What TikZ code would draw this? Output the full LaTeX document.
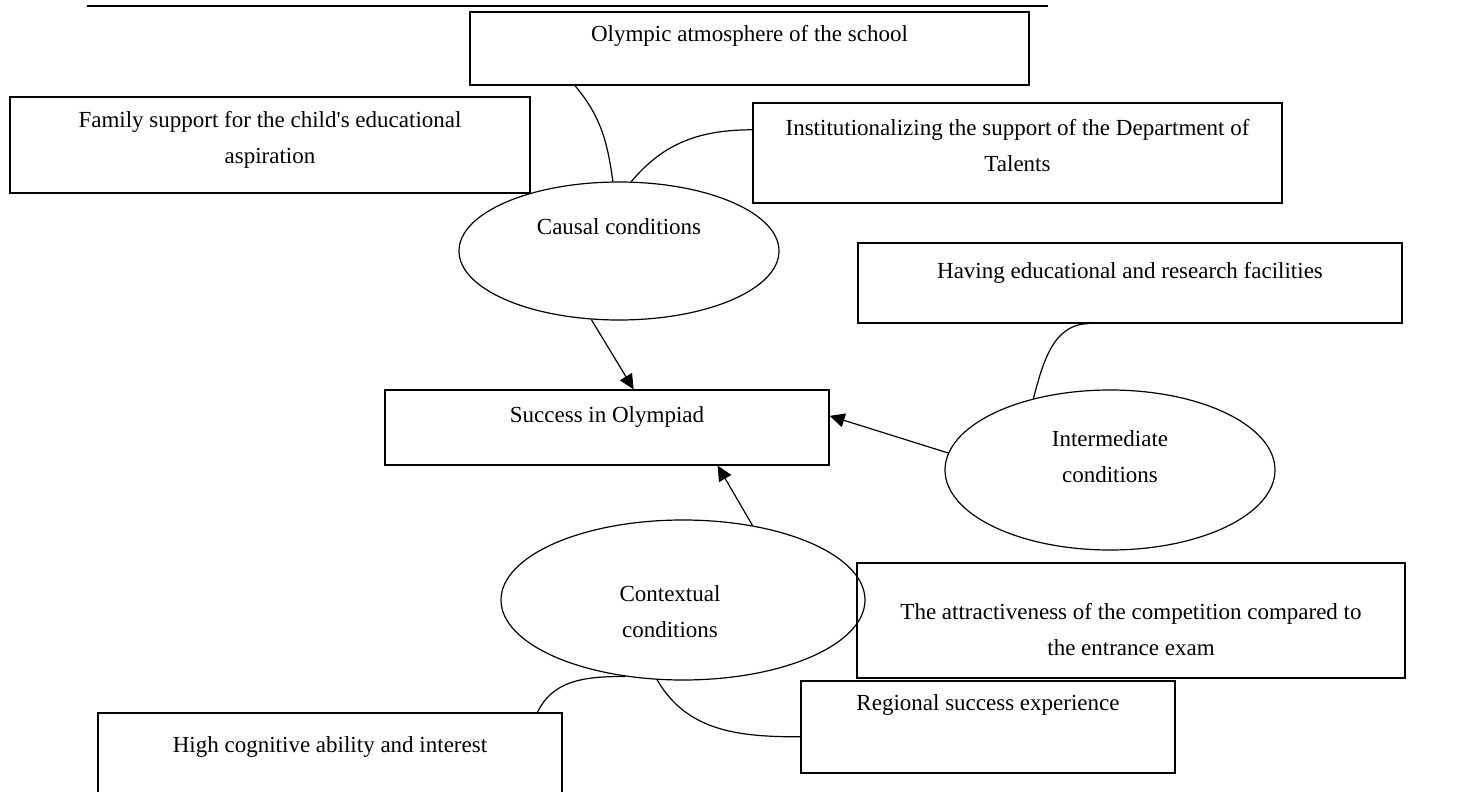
\documentclass[tikz,border=0pt]{standalone}
\usepackage{fontspec}
\setmainfont{Liberation Serif}
\usetikzlibrary{shapes.geometric, arrows.meta}

\begin{document}
\begin{tikzpicture}[x=0.5pt, y=-0.5pt,
        font=\fontsize{11.5}{18}\selectfont,
        box/.style={draw, line width=0.6pt, inner sep=0pt},
        oval/.style={draw, ellipse, line width=0.6pt, inner sep=0pt},
        txt/.style={align=center, inner sep=0pt},
        link/.style={line width=0.6pt},
        arrow/.style={line width=0.6pt, -{Triangle[length=7.5pt, width=7pt]}}]
    \useasboundingbox (0, 0) rectangle (1464, 792);
    \draw [line width=1pt] (87, 6) -- (1048, 6);

    % boxes
    \node [box, minimum width=279.5pt, minimum height=36.5pt] (olympic) at (749.5, 48.5){};
    \node [box, minimum width=260pt, minimum height=48pt] (family) at (270, 145){};
    \node [box, minimum width=264.5pt, minimum height=50pt] (inst) at (1017.5, 153){};
    \node [box, minimum width=272pt, minimum height=40pt] (having) at (1130, 283){};
    \node [box, minimum width=222pt, minimum height=37.5pt] (success) at (607, 427.5){};
    \node [box, minimum width=274pt, minimum height=57.5pt] (attract) at (1131, 620.5){};
    \node [box, minimum width=187pt, minimum height=46pt] (regional) at (988, 727){};
    \node [box, minimum width=232pt, minimum height=43.5pt] (high) at (330, 756.5){};

    % conditions
    \node [oval, minimum width=160pt, minimum height=69pt] (causal) at (619, 251){};
    \node [oval, minimum width=165pt, minimum height=80pt] (intermediate) at (1110, 470){};
    \node [oval, minimum width=182pt, minimum height=80pt] (contextual) at (683, 600){};

    % texts
    \node [txt] (olympic-t) at (749.5, 36){Olympic atmosphere of the school};
    \node [txt] (family-t) at (270, 139.5){Family support for the child\textquotesingle s educational\\aspiration};
    \node [txt] (inst-t) at (1017.5, 146){Institutionalizing the support of the Department of\\Talents};
    \node [txt] (having-t) at (1130, 273){Having educational and research facilities};
    \node [txt] (success-t) at (607, 417){Success in Olympiad};
    \node [txt] (attract-t) at (1131, 629.5){The attractiveness of the competition compared to\\the entrance exam};
    \node [txt] (regional-t) at (988, 705){Regional success experience};
    \node [txt] (high-t) at (330, 747){High cognitive ability and interest};
    \node [txt] (causal-t) at (619, 227){Causal conditions};
    \node [txt] (intermediate-t) at (1110, 457){Intermediate\\conditions};
    \node [txt] (contextual-t) at (670, 612){Contextual\\conditions};

    % links
    \draw [link] (olympic.192) to[out=-50, in=98] (causal.95);
    \draw [link] (inst.175) to[out=180, in=50] (causal.80);
    \draw [link] (having.225) to[out=180, in=75] (intermediate.137);
    \draw [link] (contextual.233) to[out=180, in=65] (high.12.5);
    \draw [link] (contextual.252.6) to[out=-60, in=180] (regional.183);

    % arrows
    \draw [arrow] (causal.248.6) -- (success.55);
    \draw [arrow] (intermediate.174.4) -- (success.3.7);
    \draw [arrow] (contextual.47) -- (success.-19.5);
\end{tikzpicture}
\end{document}
